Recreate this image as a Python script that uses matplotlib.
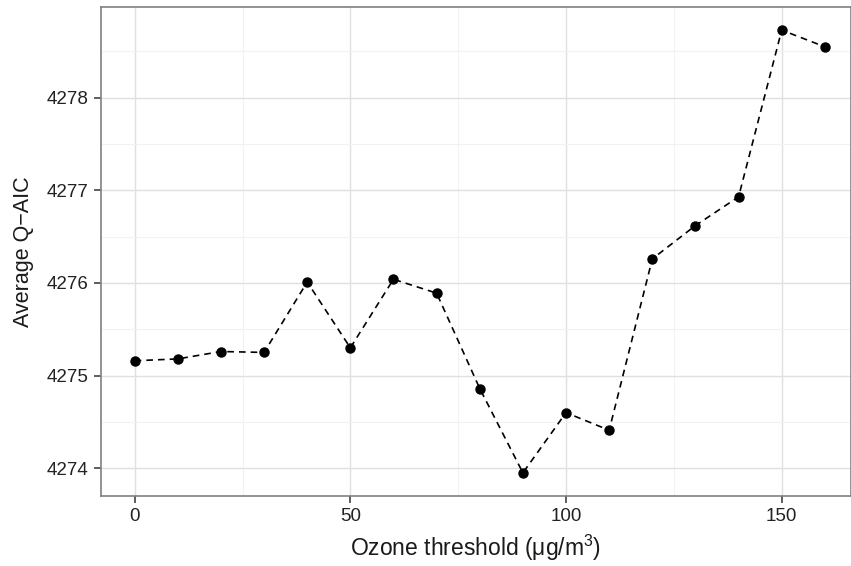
import matplotlib
matplotlib.use("Agg")
import matplotlib.pyplot as plt

# data
thresholds = [0, 10, 20, 30, 40, 50, 60, 70, 80, 90, 100, 110, 120, 130, 140, 150, 160]
avg_qaic = [4275.16, 4275.18, 4275.26, 4275.25, 4276.01, 4275.30, 4276.04, 4275.89,
            4274.86, 4273.95, 4274.60, 4274.41, 4276.26, 4276.62, 4276.93, 4278.73, 4278.55]

x_ticks = [0, 50, 100, 150]
y_ticks = [4274, 4275, 4276, 4277, 4278]

plt.rcParams['font.family'] = ['Liberation Sans', 'DejaVu Sans']
plt.rcParams['mathtext.fontset'] = 'custom'
plt.rcParams['mathtext.rm'] = 'Liberation Sans'
plt.rcParams['mathtext.it'] = 'Liberation Sans'

fig = plt.figure(figsize=(8.51, 5.66), dpi=100)
ax = fig.add_axes([0.1187, 0.1237, 0.881, 0.864])

ax.plot(thresholds, avg_qaic, color='black', linestyle=(0, (4, 3)), linewidth=1.2,
        marker='o', markersize=6.5, zorder=3)

ax.set_xlim(-7.8, 166)
ax.set_ylim(4273.70, 4278.98)

ax.set_xticks(x_ticks)
ax.set_yticks(y_ticks)
ax.set_xticks([25, 75, 125], minor=True)
ax.set_yticks([4274.5, 4275.5, 4276.5, 4277.5, 4278.5], minor=True)

ax.grid(which='major', color='#e0e0e0', linewidth=1.0)
ax.grid(which='minor', color='#f2f2f2', linewidth=0.8)
ax.set_axisbelow(True)

for s in ax.spines.values():
    s.set_color('#808080')
    s.set_linewidth(1.2)

ax.tick_params(which='major', length=5, width=1.1, color='#333333',
               labelsize=13.5, labelcolor='#222222', pad=4)
ax.tick_params(which='minor', length=0)

ax.set_xlabel('Ozone threshold (\u03bcg/m$^{3}$)', fontsize=16.5, color='#1a1a1a', labelpad=5)
ax.set_ylabel('Average Q\u2212AIC', fontsize=15.5, color='#1a1a1a', labelpad=9)

fig.savefig('out.png', dpi=100)
